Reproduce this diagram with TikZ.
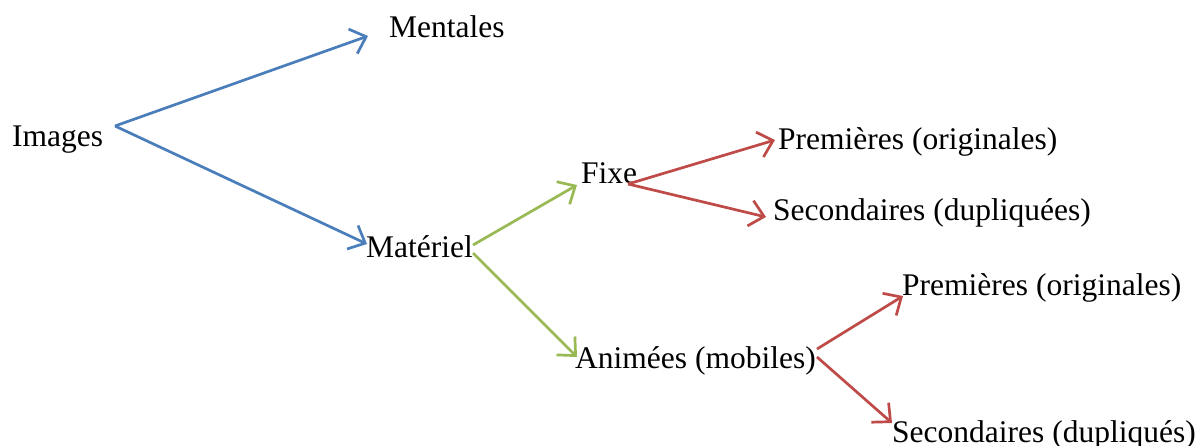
\documentclass[tikz,border=0pt]{standalone}
\usepackage{fontspec}
\setmainfont{Liberation Serif}
\usetikzlibrary{arrows.meta}
\definecolor{lineblue}{HTML}{4A7EBB}
\definecolor{linegreen}{HTML}{98B954}
\definecolor{linered}{HTML}{BE4B48}
\tikzset{
  label/.style={inner sep=0pt, anchor=base west, font=\fontsize{31.5}{36}\selectfont},
  link/.style={line width=2.7pt, -{Straight Barb[length=14pt, width=26pt, line width=2.7pt]}},
  bluelink/.style={link, draw=lineblue},
  greenlink/.style={link, draw=linegreen},
  redlink/.style={link, draw=linered}
}
\begin{document}
\begin{tikzpicture}[x=1pt, y=1pt]
\useasboundingbox (0,0) rectangle (1202,-445);

% labels, placed by their left baseline
\node[label] (img)   at (12,-146)  {Images};
\node[label] (ment)  at (389,-37)  {Mentales};
\node[label] (mat)   at (366,-257) {Matériel};
\node[label] (fixe)  at (581,-183) {Fixe};
\node[label] (anim)  at (575,-368) {Animées (mobiles)};
\node[label] (prA)   at (778,-149) {Premières (originales)};
\node[label] (seA)   at (773,-220) {Secondaires (dupliquées)};
\node[label] (prB)   at (902,-295) {Premières (originales)};
\node[label] (seB)   at (892,-442) {Secondaires (dupliqués)};

% first level
\draw[bluelink] ([shift={(103,20)}]img.base west) -- ([shift={(-21,1)}]ment.base west);
\draw[bluelink] ([shift={(103,20)}]img.base west) -- ([shift={(1,13)}]mat.base west);

% second level
\draw[greenlink] ([shift={(107,12)}]mat.base west) -- ([shift={(-4,-2)}]fixe.base west);
\draw[greenlink] ([shift={(107,4)}]mat.base west) -- ([shift={(2,11)}]anim.base west);

% third level
\draw[redlink] ([shift={(47,-1)}]fixe.base west) -- ([shift={(-3,9)}]prA.base west);
\draw[redlink] ([shift={(47,-1)}]fixe.base west) -- ([shift={(-7,3)}]seA.base west);
\draw[redlink] ([shift={(242,19)}]anim.base west) -- ([shift={(1,-1)}]prB.base west);
\draw[redlink] ([shift={(242,11)}]anim.base west) -- ([shift={(0,19)}]seB.base west);
\end{tikzpicture}
\end{document}
